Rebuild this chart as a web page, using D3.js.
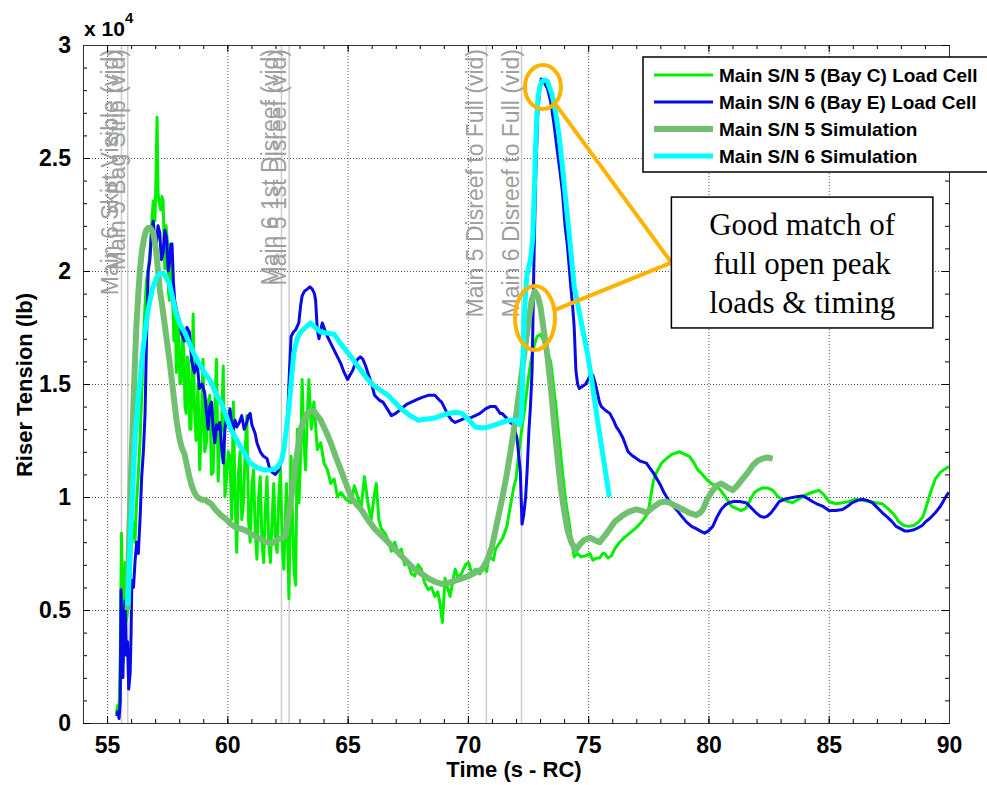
<!DOCTYPE html>
<html lang="en">
<head>
<meta charset="utf-8">
<title>Riser Tension</title>
<script src="https://cdnjs.cloudflare.com/ajax/libs/d3/7.8.5/d3.min.js"></script>
<style>
  body { margin: 0; background: #fff; }
  svg text { font-family: "Liberation Sans", Arial, sans-serif; }
  svg text.note { font-family: "Liberation Serif", "Times New Roman", serif; }
</style>
</head>
<body>
<div id="grafica"></div>
<script>
// tension values are in units of 10^4 lb, time in s - RC

var cell5Time = [55.38,55.45,55.5,55.55,55.6,55.64,55.68,55.72,55.75,55.8,55.86,55.92,55.96,56.03,56.1,56.16,56.23,56.3,56.37,56.44,56.51,56.58,56.64,56.71,56.78,56.85,56.92,56.99,57.03,57.08,57.12,57.15,57.23,57.28,57.33,57.4,57.45,57.51,57.56,57.6,57.65,57.7,57.78,57.84,57.88,57.97,58.03,58.08,58.14,58.19,58.24,58.29,58.34,58.38,58.44,58.49,58.58,58.63,58.7,58.78,58.85,58.92,58.99,59.06,59.13,59.2,59.27,59.34,59.41,59.48,59.55,59.62,59.69,59.76,59.83,59.9,59.97,60.04,60.11,60.18,60.25,60.32,60.39,60.46,60.53,60.6,60.67,60.74,60.81,60.88,60.95,61.02,61.09,61.16,61.23,61.3,61.37,61.44,61.51,61.58,61.65,61.72,61.79,61.86,61.93,62.0,62.07,62.14,62.21,62.28,62.35,62.41,62.46,62.51,62.56,62.61,62.65,62.71,62.77,62.84,62.91,62.98,63.05,63.11,63.18,63.25,63.32,63.39,63.49,63.6,63.74,63.88,64.02,64.16,64.3,64.44,64.58,64.72,64.93,65.14,65.28,65.42,65.56,65.7,65.84,65.98,66.1,66.19,66.3,66.4,66.55,66.68,66.82,66.96,67.1,67.23,67.37,67.51,67.65,67.79,67.93,68.07,68.2,68.35,68.49,68.63,68.75,68.84,68.94,69.05,69.15,69.26,69.36,69.47,69.6,69.75,69.9,70.03,70.17,70.31,70.5,70.66,70.78,70.87,71.06,71.15,71.34,71.45,71.62,71.75,71.9,72.0,72.1,72.2,72.35,72.46,72.56,72.67,72.78,72.88,73.02,73.12,73.23,73.34,73.44,73.55,73.65,73.8,73.93,74.07,74.21,74.32,74.42,74.56,74.7,74.9,75.07,75.2,75.35,75.48,75.6,75.69,75.82,75.97,76.1,76.31,76.5,76.73,76.95,77.14,77.3,77.49,77.6,77.69,77.8,77.9,78.05,78.25,78.5,78.8,79.0,79.21,79.4,79.56,79.75,79.9,80.1,80.32,80.5,80.73,80.95,81.15,81.35,81.56,81.75,81.91,82.05,82.25,82.45,82.67,82.9,83.08,83.3,83.5,83.75,84.05,84.3,84.6,84.8,85.01,85.3,85.57,85.85,86.12,86.4,86.67,86.95,87.23,87.45,87.64,87.8,87.92,88.1,88.33,88.55,88.74,88.9,89.02,89.2,89.43,89.65,89.92,90.0];
var cell5Load = [0.04,0.08,0.06,0.3,0.84,0.5,0.27,0.6,0.71,0.45,0.5,0.7,0.63,0.85,0.89,0.8,0.98,1.1,1.25,1.45,1.69,1.85,1.96,2.0,2.08,2.2,2.31,2.22,2.4,2.68,2.35,2.31,2.27,2.33,2.31,2.01,2.2,2.13,1.9,1.87,2.1,1.97,1.69,1.8,1.55,1.76,1.5,1.51,1.7,1.65,1.4,1.37,1.62,1.6,1.3,1.3,1.81,1.4,1.25,1.5,1.12,1.3,1.61,1.2,1.24,1.42,1.45,1.1,1.11,1.4,1.61,1.07,1.27,1.3,1.58,1.0,1.09,1.2,1.18,0.9,1.42,1.0,0.755,1.1,1.2,0.9,0.975,1.2,1.36,0.9,0.8,1.05,1.12,0.85,0.725,1.0,1.09,0.8,0.71,0.95,1.09,0.8,0.71,0.9,1.06,0.8,0.755,1.0,1.12,0.8,0.68,0.9,1.06,0.8,0.55,0.9,1.18,0.9,0.68,0.61,1.3,0.975,1.2,1.52,1.25,1.12,1.35,1.52,1.3,1.42,1.21,1.24,1.15,1.12,1.06,1.08,1.0,1.02,0.99,0.975,1.05,1.0,0.95,1.09,0.975,0.9,1.0,1.06,0.9,0.86,0.84,0.81,0.76,0.8,0.75,0.77,0.7,0.71,0.66,0.65,0.7,0.68,0.62,0.59,0.6,0.56,0.58,0.53,0.445,0.64,0.6,0.56,0.62,0.68,0.64,0.665,0.7,0.71,0.66,0.68,0.66,0.695,0.67,0.74,0.72,0.77,0.8,0.82,0.87,0.95,1.04,1.08,1.18,1.27,1.38,1.48,1.56,1.63,1.68,1.71,1.72,1.7,1.66,1.63,1.6,1.5,1.41,1.25,1.11,0.98,0.885,0.8,0.735,0.75,0.735,0.74,0.75,0.72,0.73,0.73,0.75,0.75,0.73,0.74,0.77,0.8,0.82,0.84,0.86,0.88,0.9,0.93,1.0,1.06,1.1,1.12,1.15,1.17,1.19,1.2,1.19,1.18,1.15,1.12,1.1,1.08,1.06,1.05,1.03,0.997,0.96,0.95,0.94,0.95,0.99,1.02,1.03,1.04,1.04,1.03,1.0,0.99,0.98,0.975,0.99,1.01,1.02,1.03,1.01,0.98,0.97,0.975,0.98,0.99,0.985,0.98,0.975,0.97,0.95,0.93,0.91,0.89,0.875,0.87,0.875,0.89,0.91,0.945,1.01,1.08,1.11,1.13,1.135];

var cell6Time = [55.4,55.45,55.5,55.55,55.58,55.62,55.66,55.7,55.75,55.8,55.85,55.9,55.96,56.0,56.03,56.1,56.16,56.23,56.3,56.37,56.44,56.51,56.58,56.64,56.71,56.78,56.85,56.92,56.98,57.05,57.12,57.19,57.26,57.33,57.4,57.47,57.54,57.6,57.65,57.7,57.76,57.81,57.9,58.01,58.1,58.22,58.32,58.42,58.52,58.63,58.74,58.84,58.95,59.06,59.13,59.2,59.27,59.34,59.41,59.48,59.55,59.62,59.69,59.76,59.83,59.9,59.97,60.04,60.11,60.18,60.25,60.32,60.39,60.5,60.6,60.7,60.81,60.88,60.95,61.02,61.09,61.16,61.23,61.3,61.37,61.5,61.65,61.75,61.86,62.0,62.14,62.25,62.35,62.45,62.51,62.58,62.65,62.75,62.84,62.97,63.05,63.11,63.2,63.32,63.43,63.53,63.62,63.67,63.74,63.81,63.88,63.95,64.05,64.16,64.3,64.44,64.58,64.72,64.86,65.0,65.1,65.21,65.32,65.42,65.53,65.63,65.75,65.84,66.0,66.12,66.3,66.47,66.65,66.82,67.0,67.23,67.45,67.65,67.85,68.07,68.35,68.63,68.8,68.91,69.05,69.19,69.33,69.47,69.7,69.89,70.1,70.31,70.5,70.73,70.92,71.15,71.34,71.42,71.6,71.76,71.9,72.04,72.12,72.18,72.25,72.32,72.4,72.46,72.54,72.6,72.67,72.74,72.81,72.9,72.98,73.05,73.12,73.19,73.3,73.44,73.58,73.72,73.83,73.93,74.04,74.14,74.28,74.35,74.42,74.49,74.56,74.63,74.77,74.9,75.07,75.19,75.3,75.47,75.55,75.7,75.9,76.05,76.17,76.3,76.45,76.66,76.87,77.14,77.42,77.55,77.69,77.97,78.15,78.32,78.5,78.66,78.85,79.08,79.3,79.49,79.65,79.84,80.0,80.18,80.35,80.53,80.7,80.87,81.05,81.29,81.56,81.75,81.98,82.15,82.32,82.45,82.6,82.78,82.94,83.15,83.36,83.6,83.91,84.1,84.32,84.5,84.74,85.01,85.3,85.57,85.8,85.98,86.2,86.4,86.6,86.81,87.0,87.23,87.45,87.64,87.8,87.98,88.15,88.33,88.55,88.74,88.9,89.02,89.2,89.43,89.65,89.92,90.0];
var cell6Load = [0.03,0.05,0.02,0.1,0.59,0.4,0.2,0.45,0.54,0.3,0.36,0.15,0.22,0.4,0.63,0.6,0.71,0.8,0.75,0.9,1.09,1.2,1.37,1.69,2.0,2.05,2.17,2.22,2.15,2.12,2.2,2.17,2.05,2.08,2.18,2.15,2.0,2.04,2.12,2.12,1.95,1.87,1.82,1.78,1.72,1.69,1.75,1.73,1.6,1.55,1.6,1.48,1.5,1.46,1.38,1.3,1.4,1.42,1.3,1.24,1.32,1.3,1.33,1.22,1.15,1.3,1.35,1.33,1.39,1.32,1.3,1.34,1.31,1.33,1.36,1.3,1.33,1.36,1.37,1.32,1.3,1.28,1.24,1.22,1.2,1.18,1.17,1.13,1.11,1.1,1.12,1.16,1.21,1.3,1.36,1.55,1.71,1.73,1.74,1.77,1.85,1.89,1.91,1.92,1.93,1.92,1.9,1.87,1.74,1.7,1.74,1.77,1.74,1.71,1.68,1.65,1.62,1.59,1.55,1.52,1.54,1.56,1.59,1.61,1.62,1.61,1.58,1.55,1.5,1.45,1.43,1.42,1.39,1.36,1.37,1.39,1.41,1.42,1.43,1.44,1.45,1.45,1.43,1.42,1.39,1.36,1.34,1.33,1.34,1.35,1.35,1.36,1.37,1.39,1.4,1.4,1.37,1.37,1.35,1.33,1.32,1.26,1.18,1.11,0.88,0.92,1.0,1.11,1.3,1.4,1.56,2.01,2.38,2.68,2.8,2.85,2.84,2.83,2.81,2.75,2.65,2.53,2.44,2.35,2.2,2.11,1.93,1.85,1.75,1.56,1.5,1.48,1.49,1.5,1.535,1.54,1.5,1.42,1.4,1.385,1.37,1.34,1.31,1.29,1.26,1.2,1.18,1.16,1.15,1.13,1.11,1.06,1.02,0.99,0.965,0.945,0.92,0.89,0.87,0.86,0.85,0.84,0.85,0.87,0.91,0.945,0.965,0.975,0.98,0.98,0.975,0.955,0.93,0.915,0.91,0.915,0.93,0.955,0.98,0.99,0.995,1.0,1.005,0.995,0.98,0.97,0.96,0.94,0.94,0.945,0.96,0.975,0.985,0.99,0.985,0.975,0.955,0.93,0.91,0.89,0.87,0.86,0.85,0.85,0.855,0.865,0.875,0.89,0.905,0.93,0.96,1.01,1.02];

var sim5Time = [55.86,55.9,55.96,56.03,56.1,56.16,56.23,56.3,56.37,56.45,56.55,56.63,56.71,56.8,56.92,56.98,57.05,57.12,57.19,57.3,57.4,57.5,57.6,57.7,57.81,57.9,58.01,58.1,58.22,58.32,58.42,58.52,58.63,58.75,58.9,59.1,59.32,59.5,59.73,59.97,60.14,60.35,60.55,60.8,61.09,61.35,61.65,61.85,62.07,62.3,62.42,62.52,62.63,62.74,62.84,62.95,63.05,63.18,63.32,63.46,63.6,63.74,63.88,64.1,64.3,64.5,64.72,64.93,65.14,65.35,65.56,65.84,66.12,66.4,66.68,66.95,67.23,67.5,67.79,68.07,68.35,68.63,68.91,69.2,69.47,69.75,70.03,70.3,70.59,70.8,71.0,71.2,71.42,71.6,71.8,72.0,72.18,72.35,72.5,72.65,72.78,72.9,73.02,73.15,73.3,73.45,73.58,73.72,73.86,74.0,74.14,74.3,74.49,74.65,74.84,75.07,75.26,75.48,75.7,75.9,76.1,76.45,76.7,77.0,77.2,77.42,77.7,77.97,78.2,78.38,78.65,78.94,79.2,79.49,79.65,79.77,79.95,80.18,80.35,80.53,80.75,81.01,81.2,81.42,81.65,81.84,82.05,82.25,82.45,82.67];
var sim5Load = [0.5,0.75,0.98,1.2,1.42,1.6,1.78,1.9,2.01,2.09,2.15,2.18,2.19,2.19,2.17,2.13,2.08,2.0,1.92,1.84,1.76,1.68,1.6,1.51,1.41,1.33,1.26,1.22,1.19,1.14,1.09,1.05,1.02,1.0,0.99,0.985,0.97,0.945,0.92,0.9,0.88,0.865,0.86,0.85,0.83,0.815,0.8,0.795,0.81,0.82,0.83,0.9,0.975,1.06,1.15,1.23,1.3,1.34,1.37,1.38,1.38,1.36,1.34,1.29,1.24,1.18,1.12,1.06,1.0,0.97,0.945,0.9,0.86,0.83,0.8,0.77,0.74,0.71,0.68,0.66,0.64,0.625,0.615,0.62,0.63,0.64,0.65,0.665,0.68,0.72,0.78,0.88,0.99,1.09,1.22,1.36,1.5,1.64,1.76,1.87,1.91,1.89,1.84,1.74,1.63,1.48,1.33,1.18,1.04,0.94,0.855,0.8,0.765,0.79,0.81,0.82,0.81,0.8,0.83,0.86,0.89,0.92,0.935,0.945,0.94,0.93,0.955,0.975,0.98,0.975,0.96,0.945,0.93,0.92,0.93,0.945,0.99,1.03,1.05,1.06,1.045,1.03,1.05,1.08,1.11,1.14,1.16,1.17,1.175,1.17];

var sim6Time = [55.86,55.92,55.96,56.05,56.16,56.3,56.44,56.58,56.71,56.88,57.05,57.2,57.33,57.47,57.6,57.75,57.88,58.05,58.22,58.5,58.77,59.05,59.32,59.55,59.73,59.95,60.14,60.4,60.68,60.95,61.25,61.51,61.8,62.07,62.25,62.35,62.45,62.56,62.67,62.77,62.9,63.05,63.25,63.46,63.65,63.88,64.15,64.44,64.7,65.0,65.28,65.56,65.84,66.12,66.4,66.68,66.95,67.23,67.6,67.93,68.3,68.63,68.9,69.19,69.5,69.75,70.05,70.31,70.6,70.87,71.15,71.42,71.7,71.98,72.15,72.22,72.28,72.34,72.45,72.6,72.7,72.76,72.81,72.86,72.92,73.0,73.09,73.2,73.3,73.4,73.5,73.65,73.79,73.93,74.07,74.25,74.42,74.7,74.98,75.2,75.4,75.65,75.88];
var sim6Load = [0.52,0.68,0.8,1.0,1.25,1.44,1.6,1.73,1.83,1.92,1.97,1.99,1.99,1.97,1.94,1.87,1.81,1.76,1.73,1.66,1.6,1.55,1.51,1.45,1.42,1.36,1.3,1.25,1.2,1.15,1.13,1.12,1.12,1.13,1.16,1.21,1.3,1.39,1.53,1.64,1.7,1.73,1.75,1.77,1.75,1.73,1.725,1.72,1.68,1.64,1.6,1.56,1.52,1.49,1.47,1.45,1.42,1.39,1.36,1.34,1.345,1.35,1.36,1.37,1.375,1.37,1.34,1.31,1.305,1.31,1.32,1.33,1.34,1.34,1.32,1.35,1.55,1.8,1.98,2.05,2.15,2.35,2.53,2.68,2.77,2.82,2.84,2.845,2.84,2.81,2.78,2.7,2.6,2.46,2.31,2.12,1.93,1.78,1.63,1.48,1.33,1.16,1.0];

var eventTimes = [55.6, 55.86, 62.25, 62.57, 70.77, 72.23];
var eventLabels = ["Main 6 Skirt Visible (vid)", "Main 5 Bag Strip (vid)",
                   "Main 6 1st Disreef (vid)", "Main 5 1st Disreef (vid)",
                   "Main 5 Disreef to Full (vid)", "Main 6 Disreef to Full (vid)"];

var xTicks = [55, 60, 65, 70, 75, 80, 85, 90];
var yTicks = [0, 0.5, 1, 1.5, 2, 2.5, 3];
var yTickLabels = ["0", "0.5", "1", "1.5", "2", "2.5", "3"];

var legendLabels = ["Main S/N 5 (Bay C) Load Cell", "Main S/N 6 (Bay E) Load Cell",
                    "Main S/N 5 Simulation", "Main S/N 6 Simulation"];

var noteLines = ["Good match of", "full open peak", "loads & timing"];
// highlighted peaks: [time, tension]
var peakMarks = [[73.12, 2.814], [72.79, 1.792]];


var w = 987, h = 785;
var pLeft = 83, pRight = 949, pTop = 45, pBottom = 723;

var svg = d3.select("#grafica").append("svg")
  .attr("width", w).attr("height", h);

var x = d3.scaleLinear().domain([54, 90]).range([pLeft, pRight]);
var y = d3.scaleLinear().domain([0, 3]).range([pBottom, pTop]);

// grid
svg.append("g")
  .attr("transform", "translate(0," + pBottom + ")")
  .call(d3.axisBottom(x).tickValues(xTicks).tickSize(-(pBottom - pTop)).tickFormat(""))
  .call(function(g){ g.select(".domain").remove(); })
  .selectAll("line").attr("stroke", "#555").attr("stroke-dasharray", "1,2");
svg.append("g")
  .attr("transform", "translate(" + pLeft + ",0)")
  .call(d3.axisLeft(y).tickValues(yTicks).tickSize(-(pRight - pLeft)).tickFormat(""))
  .call(function(g){ g.select(".domain").remove(); })
  .selectAll("line").attr("stroke", "#555").attr("stroke-dasharray", "1,2");

// event markers
svg.append("g").selectAll("line")
  .data(eventTimes)
  .enter()
  .append("line")
  .attr("x1", function(d){ return x(d); })
  .attr("x2", function(d){ return x(d); })
  .attr("y1", y(0))
  .attr("y2", y(3))
  .attr("stroke", "#cccccc")
  .attr("stroke-width", 1.5);

svg.append("g").selectAll("text")
  .data(eventTimes)
  .enter()
  .append("text")
  .attr("transform", function(d){ return "translate(" + (x(d) - 3) + "," + (y(3) + 4) + ") rotate(-90)"; })
  .attr("text-anchor", "end")
  .attr("font-size", 23)
  .attr("fill", "#9e9e9e")
  .text(function(d, i){ return eventLabels[i]; });

// data lines
svg.append("clipPath").attr("id", "plotclip")
  .append("rect").attr("x", pLeft).attr("y", pTop)
  .attr("width", pRight - pLeft).attr("height", pBottom - pTop);

var series = [
  { t: cell5Time, v: cell5Load, color: "#00f000", width: 3 },
  { t: cell6Time, v: cell6Load, color: "#0a0ae8", width: 3 },
  { t: sim5Time,  v: sim5Load,  color: "#70c070", width: 6 },
  { t: sim6Time,  v: sim6Load,  color: "#00ffff", width: 5 }
];

var line = d3.line()
  .x(function(d){ return x(d[0]); })
  .y(function(d){ return y(d[1]); });

var plot = svg.append("g").attr("clip-path", "url(#plotclip)");
series.forEach(function(s){
  plot.append("path")
    .datum(d3.zip(s.t, s.v))
    .attr("d", line)
    .attr("fill", "none")
    .attr("stroke", s.color)
    .attr("stroke-width", s.width)
    .attr("stroke-linejoin", "round");
});

// box and ticks
function tickStyle(g){
  g.select(".domain").attr("stroke", "#333");
  g.selectAll(".tick line").attr("stroke", "#000");
}
var minorX = d3.range(54, 90.5, 1);
var minorY = d3.range(0, 3.05, 0.1);

svg.append("g").attr("transform", "translate(0," + pBottom + ")")
  .call(d3.axisBottom(x).tickValues(minorX).tickSize(-4).tickSizeOuter(0).tickFormat("")).call(tickStyle);
svg.append("g").attr("transform", "translate(0," + pTop + ")")
  .call(d3.axisTop(x).tickValues(minorX).tickSize(-4).tickSizeOuter(0).tickFormat("")).call(tickStyle);
svg.append("g").attr("transform", "translate(" + pLeft + ",0)")
  .call(d3.axisLeft(y).tickValues(minorY).tickSize(-4).tickSizeOuter(0).tickFormat("")).call(tickStyle);
svg.append("g").attr("transform", "translate(" + pRight + ",0)")
  .call(d3.axisRight(y).tickValues(minorY).tickSize(-4).tickSizeOuter(0).tickFormat("")).call(tickStyle);

svg.append("g").attr("transform", "translate(0," + pBottom + ")")
  .call(d3.axisBottom(x).tickValues(xTicks).tickSize(-7).tickSizeOuter(0).tickPadding(14))
  .call(tickStyle);
svg.append("g").attr("transform", "translate(" + pLeft + ",0)")
  .call(d3.axisLeft(y).tickValues(yTicks).tickSize(-7).tickSizeOuter(0).tickPadding(12)
        .tickFormat(function(d, i){ return yTickLabels[i]; }))
  .call(tickStyle);
svg.append("g").attr("transform", "translate(0," + pTop + ")")
  .call(d3.axisTop(x).tickValues(xTicks).tickSize(-7).tickSizeOuter(0).tickFormat("")).call(tickStyle);
svg.append("g").attr("transform", "translate(" + pRight + ",0)")
  .call(d3.axisRight(y).tickValues(yTicks).tickSize(-7).tickSizeOuter(0).tickFormat("")).call(tickStyle);

svg.selectAll(".tick text")
  .attr("font-size", 23)
  .attr("font-weight", "bold")
  .attr("fill", "#000");

// axis titles
svg.append("text")
  .attr("x", 514).attr("y", 777)
  .attr("text-anchor", "middle")
  .attr("font-size", 22).attr("font-weight", "bold")
  .text("Time (s - RC)");
svg.append("text")
  .attr("transform", "translate(32," + 385 + ") rotate(-90)")
  .attr("text-anchor", "middle")
  .attr("font-size", 22).attr("font-weight", "bold")
  .text("Riser Tension (lb)");

var expo = svg.append("text")
  .attr("x", 84).attr("y", 36)
  .attr("font-size", 21).attr("font-weight", "bold");
expo.append("tspan").text("x 10");
expo.append("tspan").attr("dy", -13).attr("font-size", 15).text("4");

// legend
var legend = svg.append("g");
legend.append("rect")
  .attr("x", 643).attr("y", 57)
  .attr("width", 360).attr("height", 115)
  .attr("fill", "#fff").attr("stroke", "#000").attr("stroke-width", 1.5);
legendLabels.forEach(function(label, i){
  var ly = 75 + i * 27;
  legend.append("line")
    .attr("x1", 654).attr("x2", 713).attr("y1", ly).attr("y2", ly)
    .attr("stroke", series[i].color).attr("stroke-width", series[i].width);
  legend.append("text")
    .attr("x", 719).attr("y", ly + 7)
    .attr("font-size", 19).attr("font-weight", "bold")
    .text(label);
});

// annotation
var orange = "#ffb300";
var apex = [x(78.46), (y(2.327) + y(1.748)) / 2];
var rads = [[18, 22], [20, 32]];
peakMarks.forEach(function(p, i){
  var cx = x(p[0]), cy = y(p[1]);
  var rx = rads[i][0], ry = rads[i][1];
  var dx = apex[0] - cx, dy = apex[1] - cy;
  var s = 1 / Math.sqrt((dx / rx) * (dx / rx) + (dy / ry) * (dy / ry));
  svg.append("ellipse")
    .attr("cx", cx).attr("cy", cy).attr("rx", rx).attr("ry", ry)
    .attr("fill", "none").attr("stroke", orange).attr("stroke-width", 4);
  svg.append("line")
    .attr("x1", cx + dx * s).attr("y1", cy + dy * s)
    .attr("x2", apex[0]).attr("y2", apex[1])
    .attr("stroke", orange).attr("stroke-width", 4);
});

svg.append("rect")
  .attr("x", x(78.46)).attr("y", y(2.327))
  .attr("width", x(89.33) - x(78.46)).attr("height", y(1.748) - y(2.327))
  .attr("fill", "#fff").attr("stroke", "#000").attr("stroke-width", 1.5);
svg.append("g").selectAll("text")
  .data(noteLines)
  .enter()
  .append("text")
  .attr("class", "note")
  .attr("x", (x(78.46) + x(89.33)) / 2)
  .attr("y", function(d, i){ return 235 + i * 39; })
  .attr("text-anchor", "middle")
  .attr("font-size", 31)
  .text(function(d){ return d; });
</script>
</body>
</html>
